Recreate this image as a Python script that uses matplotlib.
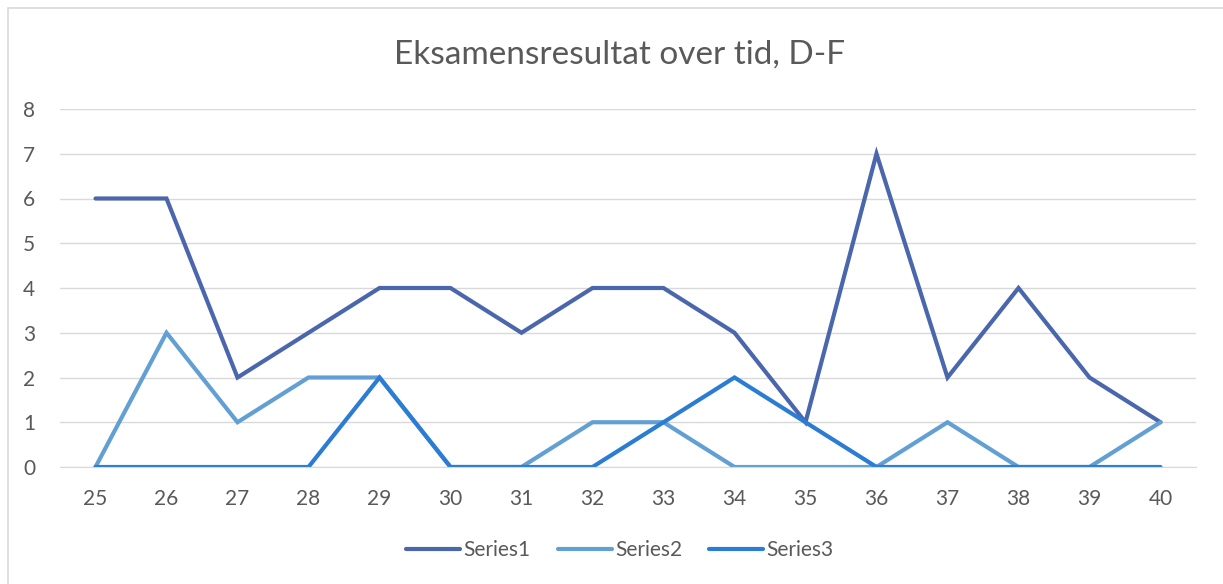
import matplotlib
matplotlib.use("Agg")
import matplotlib.pyplot as plt
from matplotlib.patches import Rectangle

# Verdier lest av diagrammet
weeks = list(range(25, 41))
series1 = [6, 6, 2, 3, 4, 4, 3, 4, 4, 3, 1, 7, 2, 4, 2, 1]
series2 = [0, 3, 1, 2, 2, 0, 0, 1, 1, 0, 0, 0, 1, 0, 0, 1]
series3 = [0, 0, 0, 0, 2, 0, 0, 0, 1, 2, 1, 0, 0, 0, 0, 0]
labels = ["Series1", "Series2", "Series3"]
colors = ["#4A66AC", "#629FD3", "#2B7CD3"]

plt.rcParams["font.family"] = ["Lato", "DejaVu Sans"]
TEXT = "#595959"

fig = plt.figure(figsize=(12.23, 5.84), dpi=100)
ax = fig.add_axes([60 / 1223, 1 - 467 / 584, 1136 / 1223, 358 / 584])

for values, label, color in zip([series1, series2, series3], labels, colors):
    ax.plot(weeks, values, color=color, linewidth=3.0, label=label,
            solid_capstyle="round", solid_joinstyle="miter")

ax.set_xlim(24.5, 40.5)
ax.set_ylim(0, 8)
ax.set_xticks(weeks)
ax.set_yticks(range(0, 9))
ax.yaxis.grid(True, color="#D9D9D9", linewidth=1.0)
ax.set_axisbelow(True)
for side in ["top", "right", "left"]:
    ax.spines[side].set_visible(False)
ax.spines["bottom"].set_color("#D9D9D9")
ax.tick_params(axis="both", length=0, labelsize=15, colors=TEXT)
ax.tick_params(axis="x", pad=16)
ax.tick_params(axis="y", pad=18)

fig.text(620 / 1223, 1 - 64 / 584, "Eksamensresultat over tid, D-F",
         ha="center", va="baseline", fontsize=24, color=TEXT)

leg = fig.legend(loc="center", bbox_to_anchor=(620 / 1223, 1 - 550 / 584), ncol=3,
                 frameon=False, fontsize=15, handlelength=2.6, handletextpad=0.15,
                 columnspacing=1.3, labelcolor=TEXT)

fig.patches.append(Rectangle((8 / 1223, -0.1), 1.2, 1 - 8 / 584 + 0.1,
                             transform=fig.transFigure, fill=False,
                             edgecolor="#D9D9D9", linewidth=1.2))

fig.savefig("out.png", dpi=100)
